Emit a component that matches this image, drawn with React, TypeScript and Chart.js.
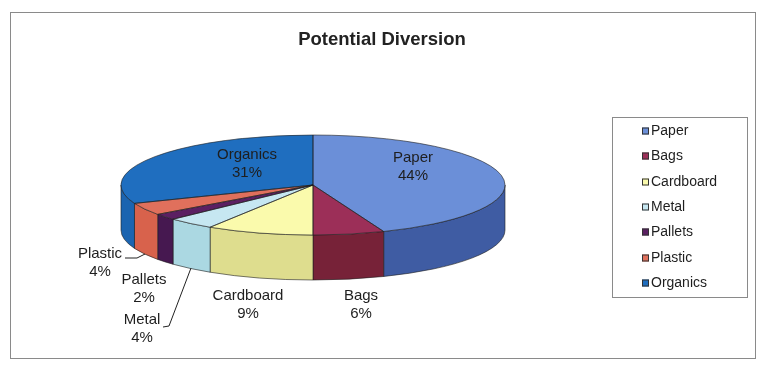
import React, { useEffect, useRef } from 'react';
import { Chart, registerables } from 'chart.js';

Chart.register(...registerables);

// ---- data ----
const categories = ['Paper', 'Bags', 'Cardboard', 'Metal', 'Pallets', 'Plastic', 'Organics'];
const shares = [44, 6, 9, 4, 2, 4, 31];
const chartTitle = 'Potential Diversion';

// ---- styles ----
const topColors = ['#6b8fd8', '#9c2f58', '#fafaac', '#c6e7f1', '#5b2062', '#e0705c', '#1f6ebf'];
const sideColors = ['#3f5ca3', '#772238', '#dedd8e', '#abd8e2', '#461850', '#d8624c', '#1b64b0'];
const FONT = "'Liberation Sans', Arial, sans-serif";
const TEXT = '#1e1e1e';

// ---- layout ----
const PIE = { cx: 313, cy: 185, rx: 192, ry: 50, depth: 45 };
const LABEL_POS = [
  { x: 413, y: 158 },
  { x: 361, y: 296 },
  { x: 248, y: 296 },
  { x: 142, y: 320 },
  { x: 144, y: 280 },
  { x: 100, y: 254 },
  { x: 247, y: 155 },
];
const LEADERS: Record<number, number[][]> = {
  3: [[163, 327], [169, 326], [191, 268]],
  5: [[125, 258], [137, 258], [145, 254]],
};
const LEGEND = { x: 612.5, y: 117.5, w: 135, h: 180, first: 131, step: 25.3, sw: 7, tx: 651 };
const FRAME = { x: 10.5, y: 12.5, w: 745, h: 346 };

const TWO_PI = Math.PI * 2;

function sidePath(ctx: CanvasRenderingContext2D, lo: number, hi: number) {
  const { cx, cy, rx, ry, depth } = PIE;
  ctx.beginPath();
  ctx.ellipse(cx, cy, rx, ry, 0, lo, hi, false);
  ctx.lineTo(cx + rx * Math.cos(hi), cy + depth + ry * Math.sin(hi));
  ctx.ellipse(cx, cy + depth, rx, ry, 0, hi, lo, true);
  ctx.closePath();
}

function frontRanges(a: number, b: number): number[][] {
  const out: number[][] = [];
  for (let k = -2; k <= 2; k++) {
    const lo = Math.max(a, TWO_PI * k);
    const hi = Math.min(b, TWO_PI * k + Math.PI);
    if (lo < hi) out.push([lo, hi]);
  }
  return out;
}

const pie3d = {
  id: 'pie3d',
  beforeDraw(chart: any) {
    const ctx = chart.ctx as CanvasRenderingContext2D;
    ctx.save();
    ctx.fillStyle = '#ffffff';
    ctx.fillRect(0, 0, chart.width, chart.height);
    ctx.strokeStyle = '#8a8a8a';
    ctx.lineWidth = 1;
    ctx.strokeRect(FRAME.x, FRAME.y, FRAME.w, FRAME.h);
    ctx.restore();
  },
  beforeDatasetsDraw(chart: any) {
    const ctx = chart.ctx as CanvasRenderingContext2D;
    const arcs = chart.getDatasetMeta(0).data as any[];
    if (!arcs.length) return;
    // side walls
    ctx.save();
    arcs.forEach((arc, i) => {
      frontRanges(arc.startAngle, arc.endAngle).forEach(([lo, hi]) => {
        sidePath(ctx, lo, hi);
        ctx.fillStyle = sideColors[i];
        ctx.fill();
        ctx.strokeStyle = 'rgba(30,30,30,0.75)';
        ctx.lineWidth = 0.8;
        ctx.stroke();
      });
    });
    ctx.restore();
    // flatten library-drawn top face into an ellipse
    const a0 = arcs[0];
    const R = a0.outerRadius || 1;
    ctx.save();
    ctx.translate(PIE.cx, PIE.cy);
    ctx.scale(PIE.rx / R, PIE.ry / R);
    ctx.translate(-a0.x, -a0.y);
  },
  afterDatasetsDraw(chart: any) {
    const ctx = chart.ctx as CanvasRenderingContext2D;
    const arcs = chart.getDatasetMeta(0).data as any[];
    if (!arcs.length) return;
    ctx.restore();
    const { cx, cy, rx, ry } = PIE;
    ctx.save();
    ctx.strokeStyle = 'rgba(30,30,30,0.75)';
    ctx.lineWidth = 0.8;
    arcs.forEach((arc) => {
      ctx.beginPath();
      ctx.moveTo(cx, cy);
      ctx.ellipse(cx, cy, rx, ry, 0, arc.startAngle, arc.endAngle, false);
      ctx.closePath();
      ctx.stroke();
    });
    ctx.restore();
  },
  afterDraw(chart: any) {
    const ctx = chart.ctx as CanvasRenderingContext2D;
    const labels = chart.data.labels as string[];
    const values = chart.data.datasets[0].data as number[];
    const total = values.reduce((s, v) => s + v, 0);
    ctx.save();
    // data labels
    ctx.fillStyle = TEXT;
    ctx.font = `15px ${FONT}`;
    ctx.textAlign = 'center';
    ctx.textBaseline = 'middle';
    labels.forEach((lab, i) => {
      const p = LABEL_POS[i];
      const pct = Math.round((values[i] / total) * 100) + '%';
      ctx.fillText(lab, p.x, p.y);
      ctx.fillText(pct, p.x, p.y + 18);
    });
    // leader lines
    ctx.strokeStyle = '#222';
    ctx.lineWidth = 1;
    Object.keys(LEADERS).forEach((k) => {
      const pts = LEADERS[+k];
      ctx.beginPath();
      ctx.moveTo(pts[0][0], pts[0][1]);
      for (let j = 1; j < pts.length; j++) ctx.lineTo(pts[j][0], pts[j][1]);
      ctx.stroke();
    });
    // legend
    ctx.strokeStyle = '#8a8a8a';
    ctx.strokeRect(LEGEND.x, LEGEND.y, LEGEND.w, LEGEND.h);
    ctx.font = `14px ${FONT}`;
    ctx.textAlign = 'left';
    const colors = chart.data.datasets[0].backgroundColor as string[];
    labels.forEach((lab, i) => {
      const y = Math.round(LEGEND.first + i * LEGEND.step);
      ctx.fillStyle = colors[i];
      ctx.fillRect(642, y - 3.5, LEGEND.sw, LEGEND.sw);
      ctx.strokeStyle = '#333';
      ctx.strokeRect(642.5, y - 3, LEGEND.sw - 1, LEGEND.sw - 1);
      ctx.fillStyle = TEXT;
      ctx.fillText(lab, LEGEND.tx, y + 0.5);
    });
    ctx.restore();
  },
};

export default function App() {
  const ref = useRef<HTMLCanvasElement | null>(null);
  useEffect(() => {
    if (!ref.current) return;
    const chart = new Chart(ref.current, {
      type: 'pie',
      data: {
        labels: categories,
        datasets: [
          {
            data: shares,
            backgroundColor: topColors,
            borderWidth: 0,
            clip: false,
          } as any,
        ],
      },
      options: {
        responsive: true,
        maintainAspectRatio: false,
        animation: false,
        events: [],
        layout: { padding: 0 },
        plugins: {
          legend: { display: false },
          tooltip: { enabled: false },
          title: {
            display: true,
            text: chartTitle,
            color: '#222',
            font: { family: FONT, size: 18.5, weight: 'bold' },
            padding: { top: 29, bottom: 10 },
          },
        },
      } as any,
      plugins: [pie3d],
    });
    return () => chart.destroy();
  }, []);
  return (
    <div style={{ position: 'fixed', left: 0, top: 0, width: 764, height: 368, background: '#fff' }}>
      <canvas ref={ref} />
    </div>
  );
}
